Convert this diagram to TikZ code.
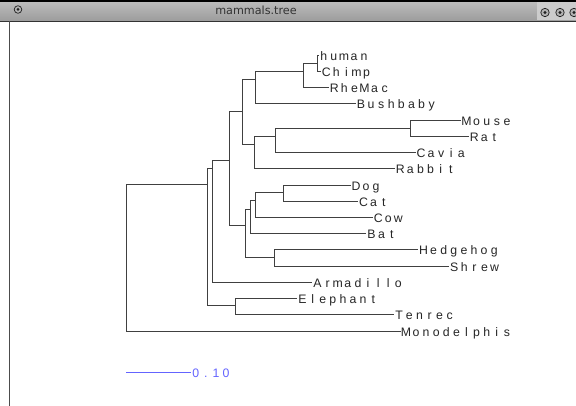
\documentclass[tikz,border=0pt]{standalone}
\usepackage{fontspec}
\setmainfont{Liberation Sans}
\newfontfamily\titlefont{DejaVu Sans}
\newcommand\cellstext[1]{\cellsloop#1\relax}
\def\cellsloop#1{\ifx\relax#1\else\makebox[10.1pt][c]{#1}\expandafter\cellsloop\fi}
\definecolor{tbtop}{HTML}{BEBEBE}
\definecolor{tbbot}{HTML}{9C9C9C}
\definecolor{scaleblue}{HTML}{6464FF}
\begin{document}
\begin{tikzpicture}[x=1pt,y=-1pt,
  branch/.style={draw=black!75,line width=1pt},
  leaf/.style={anchor=west,inner sep=0pt,text height=10.2pt,text depth=0pt,
    font=\fontsize{12.3}{14}\selectfont,text=black!85},
  winbtn/.style={fill=gray!60,draw=gray!25!black,line width=0.7pt},
  btnmark/.style={fill=gray!25!black},
]
\useasboundingbox (0,0) rectangle (576,406);
\fill[white] (0,0) rectangle (576,406);
% title bar
\shade[top color=tbtop,bottom color=tbbot] (0,0) rectangle (576,21);
\fill[gray!40] (537,1.5) rectangle (576,20);
\draw[black,line width=1.6pt] (0,0.8) -- (576,0.8);
\draw[gray!40!black,line width=0.8pt] (0,21) -- (576,21);
\draw[black!70,line width=0.8pt] (9,21) -- (9,406);
\node[font=\titlefont\fontsize{11.2}{13}\selectfont,text=black!80,inner sep=0pt] (title) at (256,10.5) {mammals.tree};
\filldraw[winbtn] (18,9.5) circle (3.8);
\fill[btnmark] (18,9.5) circle (1.5);
\filldraw[winbtn] (545,12.5) circle (4.2);
\fill[btnmark] (545,12.5) circle (1.6);
\filldraw[winbtn] (560,12.5) circle (4.2);
\fill[btnmark] (560,12.5) circle (1.6);
\filldraw[winbtn] (574,12.5) circle (4.2);
\fill[btnmark] (574,12.5) circle (1.6);

% internal nodes (x, attachment y)
\coordinate (R) at (126,184.3);
\coordinate (A) at (207.7,184.3);
\coordinate (Af) at (235.3,305.7);
\coordinate (B) at (212.3,169);
\coordinate (C) at (229.3,160.7);
\coordinate (D) at (242.7,112);
\coordinate (E) at (255.3,79.3);
\coordinate (F) at (303.3,71.3);
\coordinate (H) at (317.3,63.4);
\coordinate (G) at (254.7,145);
\coordinate (I) at (275.3,137);
\coordinate (J) at (410,128.3);
\coordinate (L) at (245,225.7);
\coordinate (M) at (250,209.3);
\coordinate (O) at (255.3,201);
\coordinate (P) at (283.7,192.7);
\coordinate (N) at (274.3,257.7);

% leaves
\node[leaf] (human) at (318.5,55.3) {\cellstext{human}};
\node[leaf] (chimp) at (321,71.5) {\cellstext{Chimp}};
\node[leaf] (rhemac) at (329,87.7) {\cellstext{RheMac}};
\node[leaf] (bushbaby) at (355.7,103.9) {\cellstext{Bushbaby}};
\node[leaf] (mouse) at (461.3,120.2) {\cellstext{Mouse}};
\node[leaf] (rat) at (469,136.4) {\cellstext{Rat}};
\node[leaf] (cavia) at (415.7,152.6) {\cellstext{Cavia}};
\node[leaf] (rabbit) at (395,168.8) {\cellstext{Rabbit}};
\node[leaf] (dog) at (350.7,185.1) {\cellstext{Dog}};
\node[leaf] (cat) at (358.3,201.3) {\cellstext{Cat}};
\node[leaf] (cow) at (373,217.5) {\cellstext{Cow}};
\node[leaf] (bat) at (366.3,233.7) {\cellstext{Bat}};
\node[leaf] (hedgehog) at (418.3,249.9) {\cellstext{Hedgehog}};
\node[leaf] (shrew) at (449,266.2) {\cellstext{Shrew}};
\node[leaf] (armadillo) at (312.3,282.4) {\cellstext{Armadillo}};
\node[leaf] (elephant) at (297.3,298.6) {\cellstext{Elephant}};
\node[leaf] (tenrec) at (394,314.8) {\cellstext{Tenrec}};
\node[leaf] (monodelphis) at (400.7,331) {\cellstext{Monodelphis}};

% branches
\draw[branch] (R) |- (A);
\draw[branch] (R) |- (monodelphis.west);
\draw[branch] (A) |- (B);
\draw[branch] (A) |- (Af);
\draw[branch] (Af) |- (elephant.west);
\draw[branch] (Af) |- (tenrec.west);
\draw[branch] (B) |- (C);
\draw[branch] (B) |- (armadillo.west);
\draw[branch] (C) |- (D);
\draw[branch] (C) |- (L);
\draw[branch] (D) |- (E);
\draw[branch] (D) |- (G);
\draw[branch] (E) |- (F);
\draw[branch] (E) |- (bushbaby.west);
\draw[branch] (F) |- (H);
\draw[branch] (F) |- (rhemac.west);
\draw[branch] (H) |- (human.west);
\draw[branch] (H) |- (chimp.west);
\draw[branch] (G) |- (I);
\draw[branch] (G) |- (rabbit.west);
\draw[branch] (I) |- (J);
\draw[branch] (I) |- (cavia.west);
\draw[branch] (J) |- (mouse.west);
\draw[branch] (J) |- (rat.west);
\draw[branch] (L) |- (M);
\draw[branch] (L) |- (N);
\draw[branch] (M) |- (O);
\draw[branch] (M) |- (bat.west);
\draw[branch] (O) |- (P);
\draw[branch] (O) |- (cow.west);
\draw[branch] (P) |- (dog.west);
\draw[branch] (P) |- (cat.west);
\draw[branch] (N) |- (hedgehog.west);
\draw[branch] (N) |- (shrew.west);

% scale bar
\coordinate (scalestart) at (126,372);
\node[leaf,text=scaleblue] (scalelabel) at (190.5,372) {\cellstext{0.10}};
\draw[draw=scaleblue,line width=1pt] (scalestart) -- (scalelabel.west);
\end{tikzpicture}
\end{document}
